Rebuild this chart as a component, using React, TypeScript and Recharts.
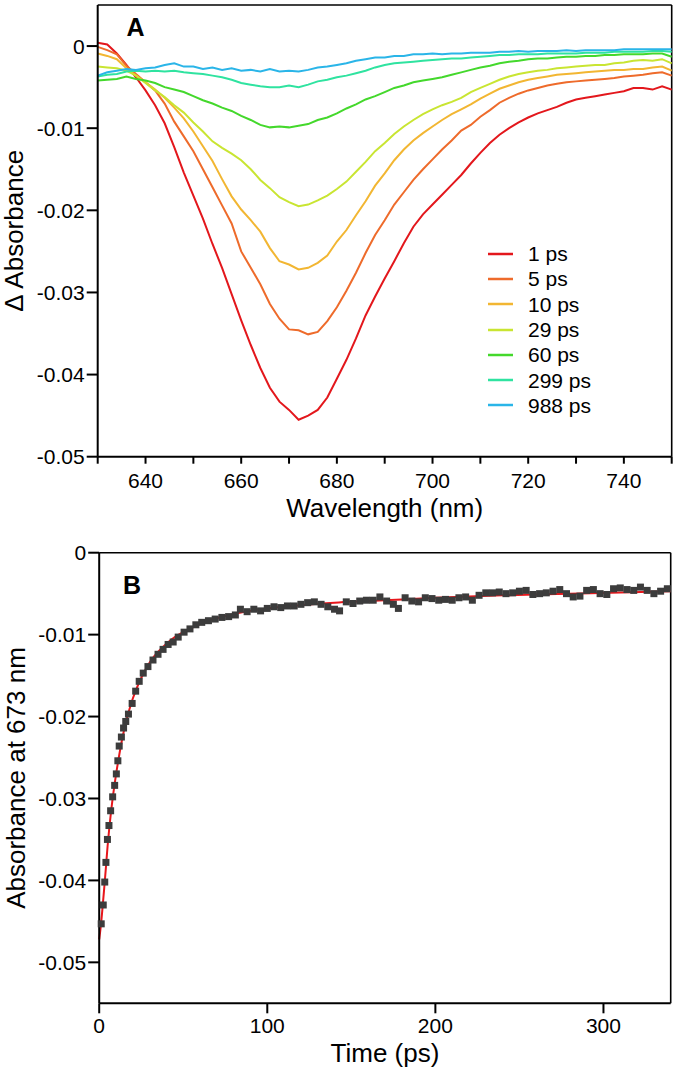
import { LineChart, Line, XAxis, YAxis, Legend, ComposedChart, Scatter, ReferenceLine } from 'recharts'

const FONT = '"Liberation Sans", Arial, Helvetica, sans-serif'

// panel A: transient spectra, values in 1e-3 absorbance units
const wavelengths = [
  630, 632, 634, 636, 638, 640, 642, 644, 646, 648, 650, 652, 654, 656, 658, 660,
  662, 664, 666, 668, 670, 672, 674, 676, 678, 680, 682, 684, 686, 688, 690, 692,
  694, 696, 698, 700, 702, 704, 706, 708, 710, 712, 714, 716, 718, 720, 722, 724,
  726, 728, 730, 732, 734, 736, 738, 740, 742, 744, 746, 748, 750,
]

const ps1 = [
  0.4, 0.2, -0.9, -2.3, -3.8, -5.4, -7.2, -9.4, -12.3, -15.4, -18.2, -21.0, -24.1, -27.0, -30.2, -33.4,
  -36.4, -39.2, -41.6, -43.3, -44.3, -45.5, -45.0, -44.3, -42.8, -40.5, -38.2, -35.6, -32.8, -30.5, -28.3, -26.2,
  -24.0, -22.0, -20.5, -19.3, -18.1, -16.9, -15.7, -14.3, -13.0, -11.8, -10.8, -10.0, -9.3, -8.7, -8.2, -7.8,
  -7.4, -6.9, -6.5, -6.3, -6.1, -5.9, -5.7, -5.5, -5.1, -5.1, -5.3, -4.9, -5.3,
]
const ps5 = [
  -0.1, -0.5, -1.0, -2.4, -3.4, -4.4, -5.4, -7.0, -9.2, -11.0, -12.8, -15.0, -17.2, -19.4, -21.6, -25.0,
  -27.0, -29.0, -31.4, -33.2, -34.5, -34.6, -35.1, -34.8, -33.5, -31.8, -29.8, -27.6, -25.2, -23.0, -21.2, -19.3,
  -17.8, -16.3, -15.0, -13.8, -12.6, -11.5, -10.3, -9.6, -8.6, -7.8, -6.9, -6.3, -5.8, -5.4, -5.1, -4.8,
  -4.6, -4.4, -4.3, -4.2, -4.1, -4.0, -3.9, -3.7, -3.6, -3.5, -3.3, -3.2, -3.6,
]
const ps10 = [
  -0.9, -1.2, -1.6, -2.7, -3.6, -4.4, -5.3, -6.3, -7.5, -8.8, -10.4, -12.2, -14.0, -16.2, -18.3, -19.9,
  -21.2, -22.6, -24.6, -26.2, -26.6, -27.2, -27.0, -26.4, -25.5, -23.8, -22.4, -20.6, -18.9, -17.0, -15.5, -13.9,
  -12.6, -11.5, -10.6, -9.8, -9.0, -8.3, -7.7, -7.1, -6.4, -5.8, -5.2, -4.8, -4.4, -4.1, -3.9, -3.7,
  -3.5, -3.4, -3.3, -3.2, -3.1, -3.0, -2.9, -2.9, -2.8, -2.8, -2.6, -2.5, -3.0,
]
const ps29 = [
  -2.5, -2.6, -2.7, -3.0, -3.6, -4.5, -5.4, -6.2, -7.2, -8.1, -9.3, -10.4, -11.6, -12.4, -13.1, -13.9,
  -15.0, -16.3, -17.3, -18.4, -19.0, -19.5, -19.3, -18.8, -18.2, -17.4, -16.5, -15.3, -14.1, -12.8, -11.8, -10.7,
  -9.8, -9.0, -8.3, -7.7, -7.2, -6.8, -6.3, -5.6, -5.1, -4.6, -4.1, -3.7, -3.4, -3.2, -3.0, -2.9,
  -2.7, -2.6, -2.5, -2.4, -2.3, -2.3, -2.1, -2.0, -1.8, -1.7, -1.8, -1.6, -2.1,
]
const ps60 = [
  -4.2, -4.1, -4.0, -3.7, -4.0, -4.2, -4.5, -5.0, -5.3, -5.6, -6.1, -6.6, -7.0, -7.5, -7.9, -8.5,
  -9.0, -9.6, -9.9, -9.8, -9.9, -9.7, -9.5, -9.0, -8.7, -8.2, -7.6, -7.1, -6.5, -6.1, -5.6, -5.1,
  -4.8, -4.4, -4.2, -4.0, -3.8, -3.5, -3.2, -2.9, -2.6, -2.4, -2.1, -1.9, -1.8, -1.6, -1.5, -1.5,
  -1.4, -1.3, -1.3, -1.2, -1.2, -1.1, -1.1, -1.0, -1.0, -1.0, -0.9, -0.9, -1.3,
]
const ps299 = [
  -3.7, -3.5, -3.4, -3.1, -3.0, -3.1, -3.0, -3.1, -3.0, -3.2, -3.3, -3.4, -3.6, -3.8, -4.1, -4.5,
  -4.7, -4.9, -5.0, -5.0, -4.8, -5.0, -4.7, -4.3, -4.1, -3.8, -3.6, -3.3, -3.0, -2.6, -2.3, -2.1,
  -2.0, -1.9, -1.8, -1.7, -1.6, -1.5, -1.5, -1.4, -1.3, -1.2, -1.1, -1.1, -1.0, -1.0, -1.0, -0.9,
  -0.9, -0.9, -0.9, -0.8, -0.8, -0.8, -0.7, -0.7, -0.7, -0.7, -0.6, -0.6, -0.7,
]
const ps988 = [
  -3.6, -3.2, -3.0, -2.8, -2.9, -2.7, -2.6, -2.3, -2.1, -2.5, -2.5, -2.8, -2.6, -2.9, -2.7, -3.0,
  -2.9, -3.1, -2.8, -3.1, -3.0, -3.1, -2.9, -2.6, -2.5, -2.3, -2.1, -1.8, -1.6, -1.4, -1.4, -1.2,
  -1.2, -1.0, -1.0, -0.9, -1.0, -0.9, -0.9, -0.8, -0.8, -0.8, -0.7, -0.7, -0.6, -0.7, -0.6, -0.6,
  -0.6, -0.5, -0.6, -0.5, -0.5, -0.5, -0.5, -0.4, -0.4, -0.4, -0.4, -0.4, -0.4,
]

const spectra = [
  { key: 'ps1', name: '1 ps', color: '#e3171c', values: ps1 },
  { key: 'ps5', name: '5 ps', color: '#ee6b2b', values: ps5 },
  { key: 'ps10', name: '10 ps', color: '#f2b632', values: ps10 },
  { key: 'ps29', name: '29 ps', color: '#c9e532', values: ps29 },
  { key: 'ps60', name: '60 ps', color: '#44d82c', values: ps60 },
  { key: 'ps299', name: '299 ps', color: '#2fe3a0', values: ps299 },
  { key: 'ps988', name: '988 ps', color: '#2ab5e8', values: ps988 },
]

const wavelengthTicks = [630, 640, 650, 660, 670, 680, 690, 700, 710, 720, 730, 740, 750]
const absTicksA = [-0.05, -0.04, -0.03, -0.02, -0.01, 0]

// panel B: kinetics at 673 nm, values in 1e-3 absorbance units
const pointTimes = [
  1.2, 2.4, 3.3, 4.0, 4.9, 5.8, 6.8, 8.0, 9.2, 10.2, 11.1, 11.9, 13.2, 14.5, 15.8, 17.4,
  19.6, 21.7, 23.8, 26.2, 29, 32, 35, 38, 41, 44, 47, 50.5, 54, 57.5, 61, 65,
  69, 73, 77, 81, 84, 88, 92, 96, 100, 104, 108, 112, 116, 120, 124, 128,
  132, 136, 140, 143, 147, 151, 155, 159, 163, 167, 171, 175, 178, 182, 186, 190,
  194, 198, 202, 206, 210, 214, 218, 222, 226, 230, 234, 238, 242, 246, 250, 254,
  258, 262, 266, 270, 274, 278, 282, 286, 290, 294, 298, 302, 306, 310, 314, 318,
  322, 326, 330, 334, 338,
]
const pointValues = [
  -45.3, -43.0, -40.2, -37.8, -35.0, -33.3, -31.5, -29.8, -28.4, -27.0, -25.4, -23.6, -22.5, -21.4, -20.6, -19.7,
  -18.4, -16.9, -15.7, -14.7, -13.9, -13.1, -12.4, -11.8, -11.2, -10.9, -10.3, -9.7, -9.3, -8.8, -8.5, -8.3,
  -8.1, -7.9, -7.8, -7.6, -6.9, -7.2, -6.9, -7.1, -6.8, -6.6, -6.7, -6.5, -6.5, -6.3, -6.1, -6.0,
  -6.3, -6.6, -6.9, -7.1, -6.0, -6.2, -5.9, -5.8, -5.8, -5.4, -5.9, -6.3, -6.8, -5.5, -5.9, -6.0,
  -5.5, -5.6, -5.8, -5.7, -5.8, -5.5, -5.4, -5.8, -5.2, -4.9, -4.9, -4.8, -5.0, -4.9, -4.7, -4.6,
  -5.1, -5.0, -4.9, -4.7, -4.5, -5.0, -5.4, -5.3, -4.6, -4.5, -5.0, -5.1, -4.4, -4.3, -4.5, -4.6,
  -4.2, -4.6, -5.0, -4.7, -4.4,
]

const fitTimes = [0, 1, 2, 3, 4, 5, 6, 7, 8, 9, 10, 12, 14, 16, 18, 20, 22, 25, 28, 31, 35, 40, 45, 50, 55, 60, 70, 80, 90, 100, 120, 140, 160, 180, 200, 240, 280, 340]
const fitValues = [
  -47.2, -45.5, -43.3, -40.9, -38.4, -35.8, -33.6, -31.7, -30.0, -28.5, -27.1, -24.6, -22.4, -20.6, -19.1, -17.8,
  -16.7, -15.3, -14.1, -13.1, -12.1, -11.1, -10.3, -9.7, -9.2, -8.7, -8.0, -7.5, -7.1, -6.8, -6.4, -6.1,
  -5.9, -5.7, -5.5, -5.2, -5.0, -4.7,
]

const timeTicks = [0, 100, 200, 300]
const absTicksB = [-0.05, -0.04, -0.03, -0.02, -0.01, 0]

const spectrumData = wavelengths.map((w, i) => {
  const row: Record<string, number> = { w }
  spectra.forEach((s) => {
    row[s.key] = s.values[i] / 1000
  })
  return row
})
const pointData = pointTimes.map((t, i) => ({ t, v: pointValues[i] / 1000 }))
const fitData = fitTimes.map((t, i) => ({ t, v: fitValues[i] / 1000 }))

const tickText = { fill: '#000', fontSize: 21, fontFamily: FONT }
const axisStroke = { stroke: '#000', strokeWidth: 2 }

function SpectraLegend() {
  return (
    <div style={{ fontFamily: FONT, fontSize: 21, color: '#000' }}>
      {spectra.map((s) => (
        <div key={s.key} style={{ display: 'flex', alignItems: 'center', height: 25.3 }}>
          <svg width={25} height={4} style={{ display: 'block' }}>
            <line x1={0} y1={2} x2={25} y2={2} stroke={s.color} strokeWidth={2.5} />
          </svg>
          <span style={{ marginLeft: 15, lineHeight: '25px' }}>{s.name}</span>
        </div>
      ))}
    </div>
  )
}

function Square(props: any) {
  const { cx, cy } = props
  if (cx == null || cy == null) return null
  return <rect x={cx - 3.5} y={cy - 3.5} width={7} height={7} fill="#3c3c3c" />
}

const panelLetter = {
  position: 'absolute' as const,
  fontFamily: FONT,
  fontWeight: 700,
  fontSize: 25,
  lineHeight: '25px',
  color: '#000',
}

export default function App() {
  return (
    <div style={{ position: 'absolute', left: 0, top: 0, width: 679, height: 1073, background: '#fff' }}>
      <div style={{ position: 'absolute', left: 0, top: 0 }}>
        <LineChart width={679} height={530} data={spectrumData} margin={{ top: 5, right: 7.3, bottom: 11.3, left: 0 }}>
          <XAxis
            dataKey="w"
            type="number"
            domain={[630, 750]}
            ticks={wavelengthTicks}
            tickFormatter={(v) => (v % 20 === 0 ? String(v) : '')}
            height={62}
            tickSize={7}
            tickMargin={9}
            axisLine={axisStroke}
            tickLine={axisStroke}
            tick={tickText}
            label={{ value: 'Wavelength (nm)', position: 'insideBottom', offset: 1.7, fill: '#000', fontSize: 26, fontFamily: FONT }}
          />
          <YAxis
            type="number"
            domain={[-0.05, 0.005]}
            ticks={absTicksA}
            width={97.7}
            tickSize={11}
            tickMargin={2}
            axisLine={axisStroke}
            tickLine={axisStroke}
            tick={tickText}
            label={{ value: '\u0394 Absorbance', angle: -90, position: 'insideLeft', offset: 14, fill: '#000', fontSize: 26, fontFamily: FONT, style: { textAnchor: 'middle' } }}
          />
          <ReferenceLine y={0.005} stroke="#000" strokeWidth={1.6} ifOverflow="visible" />
          <ReferenceLine x={750} stroke="#000" strokeWidth={1.6} ifOverflow="visible" />
          {spectra.map((s) => (
            <Line
              key={s.key}
              type="linear"
              dataKey={s.key}
              name={s.name}
              stroke={s.color}
              strokeWidth={2}
              dot={false}
              activeDot={false}
              isAnimationActive={false}
            />
          ))}
          <Legend
            layout="horizontal"
            align="center"
            verticalAlign="middle"
            content={() => <SpectraLegend />}
            wrapperStyle={{ left: 488, top: 241, width: 180, height: 180 }}
          />
        </LineChart>
      </div>
      <div style={{ ...panelLetter, left: 126.5, top: 15 }}>A</div>

      <div style={{ position: 'absolute', left: 0, top: 520 }}>
        <ComposedChart width={679} height={553} margin={{ top: 32.7, right: 8.3, bottom: 9.7, left: 0 }}>
          <XAxis
            dataKey="t"
            type="number"
            domain={[0, 340]}
            ticks={timeTicks}
            height={60}
            tickSize={10}
            tickMargin={5}
            axisLine={axisStroke}
            tickLine={axisStroke}
            tick={tickText}
            label={{ value: 'Time (ps)', position: 'insideBottom', offset: 1.6, fill: '#000', fontSize: 26, fontFamily: FONT }}
          />
          <YAxis
            type="number"
            domain={[-0.055, 0]}
            ticks={absTicksB}
            width={99.2}
            tickSize={11}
            tickMargin={2}
            axisLine={axisStroke}
            tickLine={axisStroke}
            tick={tickText}
            label={{ value: 'Absorbance at 673 nm', angle: -90, position: 'insideLeft', offset: 16, fill: '#000', fontSize: 26, fontFamily: FONT, style: { textAnchor: 'middle' } }}
          />
          <ReferenceLine y={0} stroke="#000" strokeWidth={1.6} ifOverflow="visible" />
          <ReferenceLine x={340} stroke="#000" strokeWidth={1.6} ifOverflow="visible" />
          <Scatter data={pointData} dataKey="v" shape={Square} isAnimationActive={false} />
          <Line data={fitData} dataKey="v" type="monotone" stroke="#e8161b" strokeWidth={2} dot={false} activeDot={false} isAnimationActive={false} />
        </ComposedChart>
      </div>
      <div style={{ ...panelLetter, left: 123, top: 572.5 }}>B</div>
    </div>
  )
}
